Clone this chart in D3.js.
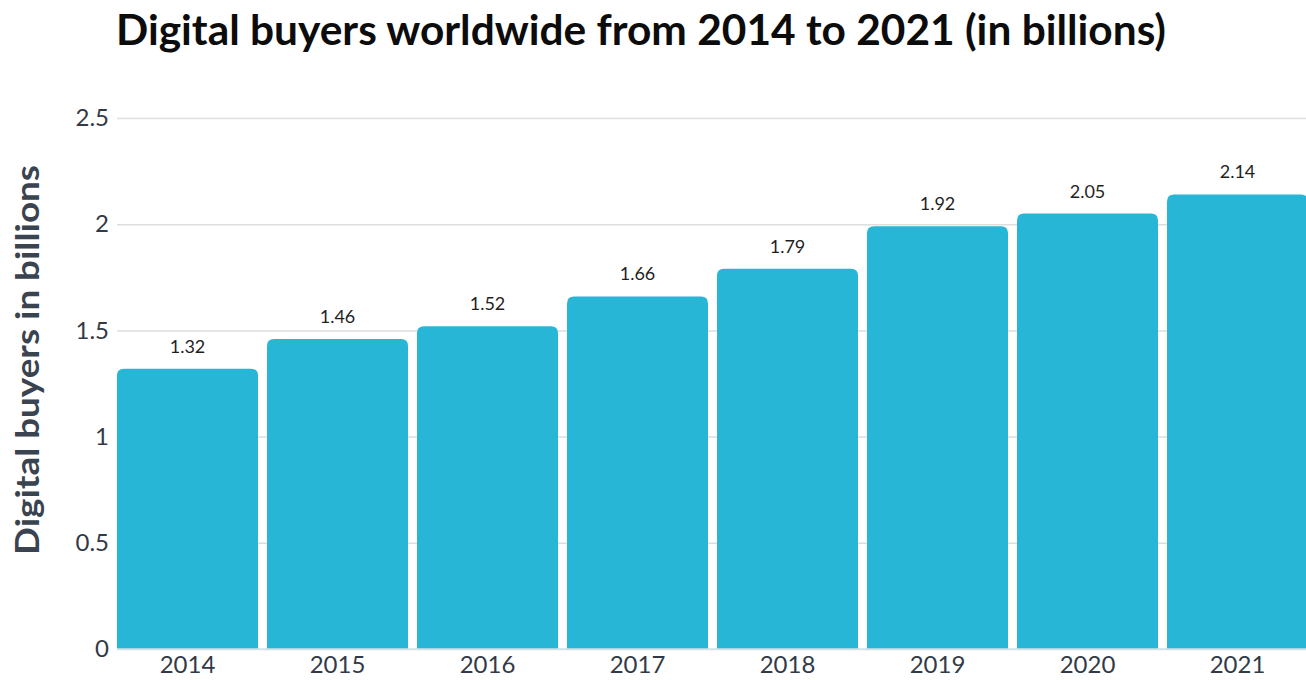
<!DOCTYPE html>
<html>
<head>
<meta charset="utf-8">
<script src="https://cdn.jsdelivr.net/npm/d3@7"></script>
<style>
  html, body { margin: 0; padding: 0; background: #ffffff; overflow: hidden; }
  svg { display: block; }
</style>
</head>
<body>
<svg id="chart" width="1306" height="680"></svg>
<script>
// ---- data ----
const years = ["2014", "2015", "2016", "2017", "2018", "2019", "2020", "2021"];
const barValues = [1.32, 1.46, 1.52, 1.66, 1.79, 1.99, 2.05, 2.14];
const valueLabels = ["1.32", "1.46", "1.52", "1.66", "1.79", "1.92", "2.05", "2.14"];
const yTicks = [0, 0.5, 1, 1.5, 2, 2.5];
const titleText = "Digital buyers worldwide from 2014 to 2021 (in billions)";
const yAxisTitle = "Digital buyers in billions";

// ---- layout ----
const W = 1306, H = 680;
const svg = d3.select("#chart");
const plotLeft = 112.5, plotRight = 1312.5, plotTop = 118, plotBottom = 649;

const x = d3.scaleBand().domain(years).range([plotLeft, plotRight])
  .paddingInner(0.06).paddingOuter(0.03);
const y = d3.scaleLinear().domain([0, 2.5]).range([plotBottom, plotTop]);

// gridlines
const grid = d3.axisLeft(y).tickValues(yTicks).tickSize(-(W - 117)).tickFormat("");
svg.append("g").attr("transform", "translate(117,0)").call(grid)
  .call(g => g.select(".domain").remove())
  .call(g => g.selectAll("line").attr("stroke", "#dedede").attr("stroke-width", 1.5));

// bars with rounded top corners
const r = 7;
function barPath(x0, w, yTop, yBot) {
  return `M${x0},${yBot} V${yTop + r} Q${x0},${yTop} ${x0 + r},${yTop} H${x0 + w - r} Q${x0 + w},${yTop} ${x0 + w},${yTop + r} V${yBot} Z`;
}
svg.append("g").selectAll("path").data(years).join("path")
  .attr("d", (d, i) => barPath(x(d), x.bandwidth(), y(barValues[i]), y(0)))
  .attr("fill", "#28b6d6");

// baseline
svg.append("line").attr("x1", 117).attr("x2", W).attr("y1", y(0)).attr("y2", y(0))
  .attr("stroke", "#cfe3ea").attr("stroke-width", 1.5);

// y axis labels
const yAxis = d3.axisLeft(y).tickValues(yTicks).tickSize(0).tickPadding(8)
  .tickFormat(d => d3.format("")(d));
svg.append("g").attr("transform", "translate(117,0)").call(yAxis)
  .call(g => g.select(".domain").remove())
  .call(g => g.selectAll("text")
    .attr("font-family", "Lato, 'Open Sans', sans-serif")
    .attr("font-size", 24).attr("fill", "#323a47"));

// x axis labels
const xAxis = d3.axisBottom(x).tickSize(0).tickPadding(7);
svg.append("g").attr("transform", `translate(0,${plotBottom})`).call(xAxis)
  .call(g => g.select(".domain").remove())
  .call(g => g.selectAll("text")
    .attr("font-family", "Lato, 'Open Sans', sans-serif")
    .attr("font-size", 24).attr("fill", "#323a47"));

// value labels
svg.append("g").selectAll("text").data(years).join("text")
  .attr("x", d => x(d) + x.bandwidth() / 2)
  .attr("y", (d, i) => y(barValues[i]) - 16)
  .attr("text-anchor", "middle")
  .attr("font-family", "Lato, 'Open Sans', sans-serif")
  .attr("font-size", 18).attr("fill", "#1f1f1f")
  .text((d, i) => valueLabels[i]);

// title
svg.append("text").attr("x", 116).attr("y", 45)
  .attr("font-family", "Lato, 'Open Sans', sans-serif")
  .attr("font-weight", 700).attr("font-size", 42).attr("fill", "#0c0c0c")
  .attr("textLength", 1050).attr("lengthAdjust", "spacingAndGlyphs")
  .text(titleText);

// y axis title
svg.append("text")
  .attr("transform", `translate(39,${(165 + 555) / 2}) rotate(-90)`)
  .attr("text-anchor", "middle")
  .attr("font-family", "Lato, 'Open Sans', sans-serif")
  .attr("font-weight", 700).attr("font-size", 33).attr("fill", "#3a4350")
  .attr("textLength", 390).attr("lengthAdjust", "spacingAndGlyphs")
  .text(yAxisTitle);
</script>
</body>
</html>
